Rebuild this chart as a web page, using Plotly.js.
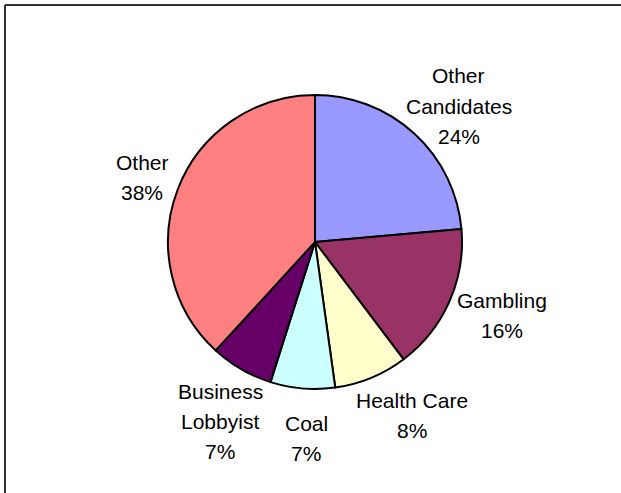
<!DOCTYPE html>
<html>
<head>
<meta charset="utf-8">
<script src="https://cdn.plot.ly/plotly-3.0.1.min.js"></script>
<style>html,body{margin:0;padding:0;background:#fff}#chart{width:621px;height:493px}</style>
</head>
<body>
<div id="chart"></div>
<script>
// Data
const categories = ['Other<br>Candidates', 'Gambling', 'Health Care', 'Coal', 'Business<br>Lobbyist', 'Other'];
const shares = [23.6, 16.1, 8.1, 7.1, 6.9, 38.2];
const colors = ['#9999FF', '#993366', '#FFFFCC', '#CCFFFF', '#660066', '#FF8080'];

// Label placement (pixel centres in the 621x493 frame)
const labelPos = [[459, 76], [502, 300], [412, 400], [306, 423], [220, 391], [142, 162]];
const lineGap = 30;

const W = 621, H = 493;
const cx = 315, cy = 242, r = 147;

const total = shares.reduce((a, b) => a + b, 0);
const annotations = [];
categories.forEach((c, i) => {
  const lines = c.split('<br>').concat([Math.round(shares[i] / total * 100) + '%']);
  lines.forEach((t, j) => {
    annotations.push({
      xref: 'paper', yref: 'paper',
      x: labelPos[i][0] / W,
      y: 1 - (labelPos[i][1] + j * lineGap) / H,
      xanchor: 'center', yanchor: 'middle',
      text: t, showarrow: false,
      font: {family: 'Liberation Sans, Arial, sans-serif', size: 21, color: '#000'}
    });
  });
});

const trace = {
  type: 'pie',
  labels: categories,
  values: shares,
  sort: false,
  direction: 'clockwise',
  rotation: 0,
  marker: {colors: colors, line: {color: '#000', width: 2}},
  textinfo: 'none',
  hoverinfo: 'label+percent',
  domain: {x: [(cx - r) / W, (cx + r) / W], y: [1 - (cy + r) / H, 1 - (cy - r) / H]},
  showlegend: false
};

const layout = {
  width: W, height: H,
  margin: {l: 0, r: 0, t: 0, b: 0},
  paper_bgcolor: '#fff', plot_bgcolor: '#fff',
  showlegend: false,
  annotations: annotations,
  shapes: [
    {type: 'line', xref: 'paper', yref: 'paper', x0: 5 / W, x1: 1, y0: 1 - 5 / H, y1: 1 - 5 / H, line: {color: '#333', width: 2}},
    {type: 'line', xref: 'paper', yref: 'paper', x0: 5 / W, x1: 5 / W, y0: 0, y1: 1 - 5 / H, line: {color: '#333', width: 2}}
  ]
};

Plotly.newPlot('chart', [trace], layout, {displayModeBar: false, staticPlot: true});
</script>
</body>
</html>
